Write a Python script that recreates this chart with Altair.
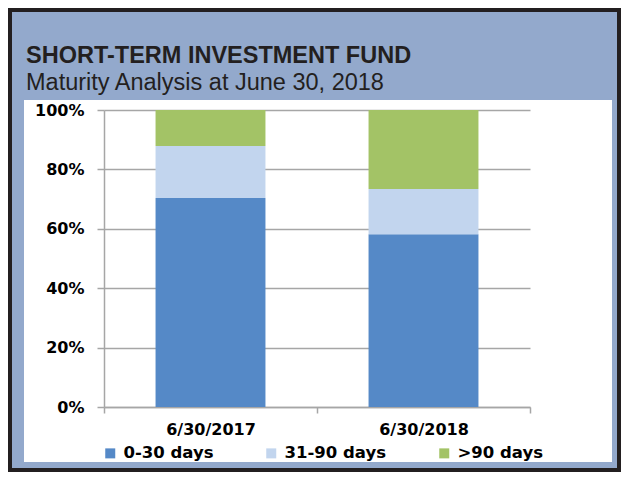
import altair as alt
import pandas as pd

# ---- data ----
dates = ["6/30/2017", "6/30/2018"]
buckets = ["0-30 days", "31-90 days", ">90 days"]
share_2017 = [70.4, 17.5, 12.1]
share_2018 = [58.2, 15.2, 26.6]
colors = ["#5589C7", "#C2D5EE", "#A3C366"]
y_ticks = [0, 0.2, 0.4, 0.6, 0.8, 1.0]
title_text = "SHORT-TERM INVESTMENT FUND"
subtitle_text = "Maturity Analysis at June 30, 2018"

rows = []
for d, vals in zip(dates, [share_2017, share_2018]):
    for i, (b, v) in enumerate(zip(buckets, vals)):
        rows.append({"date": d, "bucket": b, "order": i, "share": v / 100})
df = pd.DataFrame(rows)

W, H = 426, 297
DARK = "#231F20"
BLUEGRAY = "#93A9CC"
GRAY = "#A6A6A6"
one = alt.Data(values=[{"k": 1}])


def box(x0, x1, y0, y1, color):
    return alt.Chart(one).mark_rect(color=color).encode(
        x=alt.value(x0), x2=alt.value(x1), y=alt.value(y0), y2=alt.value(y1)
    )


frame = [
    # blue-gray surround (around white panel)
    box(-92, 513, -98, -10, BLUEGRAY),
    box(-92, -80, -10, 358, BLUEGRAY),
    box(508, 513, -10, 358, BLUEGRAY),
    box(-92, 513, 352, 358, BLUEGRAY),
    # dark outer border
    box(-96, 517, -102, -98, DARK),
    box(-96, 517, 358, 362, DARK),
    box(-96, -92, -102, 362, DARK),
    box(513, 517, -102, 362, DARK),
]

title = alt.Chart(one).mark_text(
    text=title_text, font="Liberation Sans", fontWeight="bold", fontSize=23.5,
    align="left", baseline="alphabetic", color=DARK,
).encode(x=alt.value(-78), y=alt.value(-47))

subtitle = alt.Chart(one).mark_text(
    text=subtitle_text, font="Liberation Sans", fontWeight="normal", fontSize=23.5,
    align="left", baseline="alphabetic", color=DARK,
).encode(x=alt.value(-78), y=alt.value(-20))

bars = alt.Chart(df).mark_bar(width=alt.RelativeBandSize(0.516)).encode(
    x=alt.X(
        "date:N", sort=dates,
        scale=alt.Scale(paddingInner=0, paddingOuter=0),
        axis=alt.Axis(
            title=None, labelAngle=0, tickBand="extent", grid=False,
            domainColor=GRAY, domainWidth=1.5, tickColor=GRAY, tickWidth=1.5,
            tickSize=6, labelPadding=8, labelFont="DejaVu Sans",
            labelFontWeight="bold", labelFontSize=16, labelColor="#000000",
        ),
    ),
    y=alt.Y(
        "share:Q", stack="zero",
        scale=alt.Scale(domain=[0, 1], nice=False),
        axis=alt.Axis(
            title=None, values=y_ticks, format=".0%", grid=True,
            gridColor=GRAY, gridWidth=1.5, domainColor=GRAY, domainWidth=1.5,
            tickColor=GRAY, tickWidth=1.5, tickSize=7, labelPadding=13,
            labelFont="DejaVu Sans", labelFontWeight="bold", labelFontSize=16,
            labelColor="#000000",
        ),
    ),
    color=alt.Color(
        "bucket:N", sort=buckets,
        scale=alt.Scale(domain=buckets, range=colors),
        legend=alt.Legend(
            title=None, orient="none", legendX=-2, legendY=335,
            direction="horizontal", symbolType="square", symbolSize=100,
            symbolStrokeWidth=0, labelFont="DejaVu Sans", labelFontWeight="bold",
            labelFontSize=16.5, labelColor="#000000", columnPadding=49,
            labelOffset=5,
        ),
    ),
    order=alt.Order("order:Q", sort="ascending"),
)

chart = alt.layer(*frame, bars, title, subtitle).properties(
    width=W, height=H,
    autosize=alt.AutoSizeParams(type="none"),
    padding={"left": 96, "top": 102, "right": 91, "bottom": 65},
    background="white",
).configure_view(stroke=None)

chart.save("out.html", embed_options={"renderer": "svg", "actions": False})
